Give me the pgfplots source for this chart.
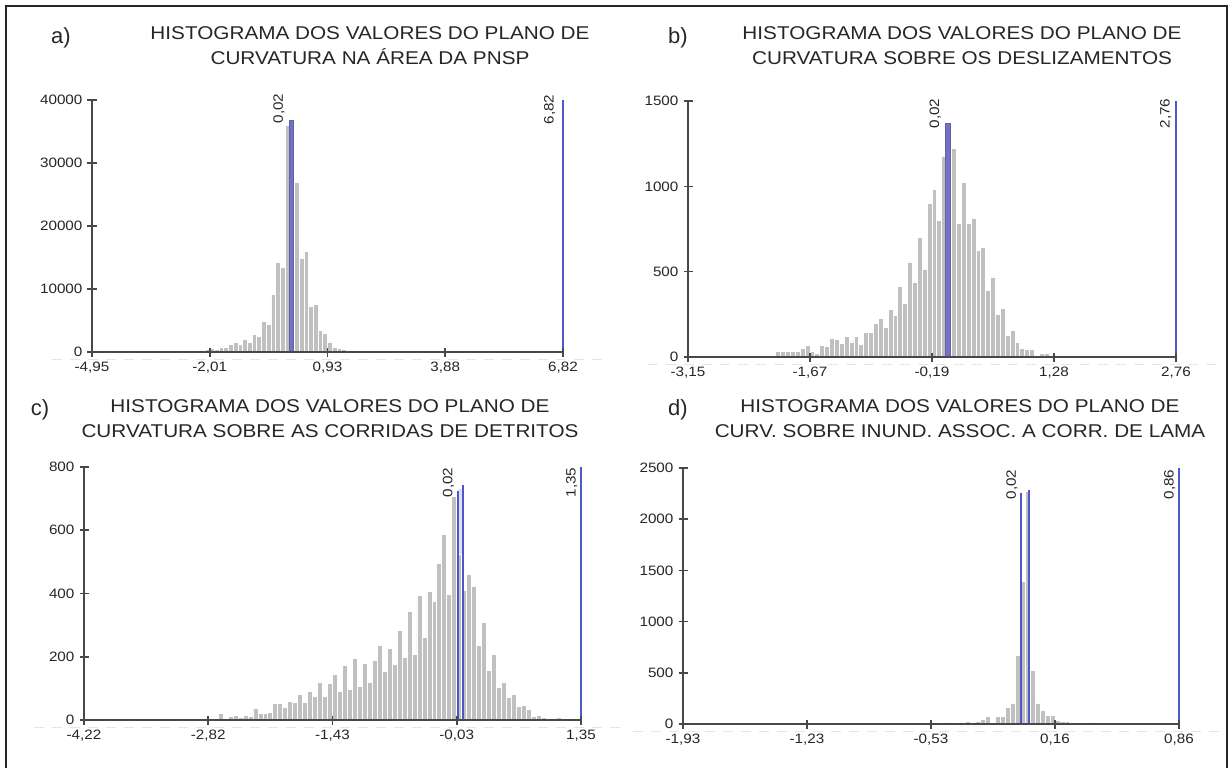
\documentclass[border=0pt]{standalone}
\usepackage{fontspec}
\setmainfont{Liberation Sans}
\newfontfamily\titlef{Liberation Sans}[FakeStretch=1.12]
\newfontfamily\tickf{Liberation Sans}[FakeStretch=1.12]
\usepackage{pgfplots}
\pgfplotsset{compat=1.18}
\usepackage{pgfplotstable}

\definecolor{bargray}{RGB}{192,192,192}
\definecolor{selblue}{RGB}{114,114,196}
\definecolor{lineblue}{RGB}{78,88,200}
\definecolor{axisgray}{RGB}{72,72,72}
\definecolor{txt}{RGB}{38,38,38}

% Histogram counts per class (100 classes between min and max)
\pgfplotstableread{
bin count
18 20
19 40
20 60
21 100
22 150
23 200
24 350
25 600
26 450
27 800
28 700
29 1200
30 1500
31 1200
32 2000
33 1500
34 2800
35 2500
36 4800
37 4400
38 9200
39 14200
40 13400
41 36000
42 30000
43 27000
44 14800
45 16000
46 7300
47 7500
48 3400
49 3000
50 1600
51 800
52 600
53 350
54 250
55 150
56 100
57 80
58 50
59 30
60 20
61 0
}\histA

\pgfplotstableread{
bin count
10 3
11 0
12 5
13 3
14 10
15 5
16 5
17 10
18 30
19 35
20 30
21 35
22 33
23 50
24 68
25 35
26 20
27 68
28 65
29 107
30 103
31 78
32 121
33 88
34 123
35 74
36 143
37 143
38 199
39 225
40 172
41 277
42 244
43 414
44 316
45 557
46 440
47 703
48 516
49 902
50 984
51 801
52 1178
53 1300
54 1221
55 781
56 1025
57 781
58 814
59 625
60 645
61 390
62 469
63 250
64 283
65 127
66 156
67 84
68 49
69 47
70 43
71 10
72 23
73 20
74 10
75 6
76 5
77 5
78 5
79 3
80 0
}\histB

\pgfplotstableread{
bin count
18 3
19 4
20 3
21 4
22 2
23 3
24 2
25 2
26 4
27 20
28 4
29 11
30 15
31 9
32 15
33 12
34 36
35 21
36 20
37 23
38 52
39 52
40 41
41 59
42 56
43 80
44 56
45 91
46 75
47 120
48 74
49 115
50 145
51 91
52 172
53 96
54 195
55 107
56 179
57 120
58 187
59 237
60 153
61 226
62 176
63 284
64 197
65 343
66 208
67 395
68 262
69 407
70 375
71 494
72 588
73 396
74 708
75 523
76 409
77 459
78 421
79 237
80 308
81 157
82 208
83 103
84 118
85 70
86 80
87 44
88 46
89 33
90 12
91 15
92 9
93 4
94 4
95 7
96 3
97 2
98 1
99 0
}\histC

\pgfplotstableread{
bin count
48 2
49 5
50 4
51 6
52 6
53 10
54 13
55 13
56 13
57 22
58 16
59 26
60 45
61 71
62 16
63 71
64 77
65 161
66 206
67 666
68 1390
69 2270
70 527
71 206
72 135
73 80
74 87
75 39
76 29
77 22
78 19
79 16
80 13
81 13
82 10
83 6
84 6
85 5
86 4
87 3
88 3
89 2
90 3
91 2
92 2
93 2
94 2
95 1
96 1
97 1
98 1
99 0
}\histD

\pgfplotsset{
  histo/.style={
    scale only axis,
    anchor=south west,
    axis on top,
    axis x line*=bottom,
    axis y line*=left,
    axis line style={axisgray, line width=1pt},
    tick style={axisgray, line width=0.8pt},
    major tick length=4.5pt,
    tick align=center,
    scaled y ticks=false,
    xmin=0, xmax=100, ymin=0,
    xtick={0,25,50,75,100},
    ticklabel style={font=\tickf\fontsize{6.8pt}{7.5pt}\selectfont, text=txt},
    xticklabel style={yshift=1pt},
    yticklabel style={xshift=1pt},
    clip=false,
  },
  bars/.style={ybar interval, fill=bargray, draw=white, line width=0.4pt},
  selbar/.style={ybar interval, fill=selblue, draw=selblue!85!black, line width=0.3pt},
  haze bar/.style={ybar interval, fill=selblue!22, draw=none},
  mark line/.style={draw=lineblue, line width=0.95pt},
}
\tikzset{
  vlabel/.style={rotate=90, anchor=south east, inner sep=0.6pt,
    font=\tickf\fontsize{6.8pt}{7.5pt}\selectfont, text=txt},
  baseline dash/.style={black!10, line width=0.5pt, dash pattern=on 5pt off 4pt},
}

\newcommand{\paneltitle}[3]{%
  \node[font=\titlef\fontsize{9.25pt}{12.5pt}\selectfont, text=txt, align=center] at (#1,#2) {#3};}
\newcommand{\panelletter}[3]{%
  \node[font=\fontsize{11pt}{12pt}\selectfont, text=txt] at (#1,#2) {#3};}

\begin{document}
\begin{tikzpicture}
\useasboundingbox (0,0) rectangle (615.5pt,-383.5pt);
% outer frame
\draw[black!85, line width=1pt] (3pt,-390pt) -- (3pt,-3pt) -- (613.5pt,-3pt) -- (613.5pt,-390pt);

% ---------- a) ----------
\panelletter{30.5pt}{-19pt}{a)}
\paneltitle{185pt}{-22.75pt}{HISTOGRAMA DOS VALORES DO PLANO DE\\CURVATURA NA ÁREA DA PNSP}
\begin{axis}[histo, at={(46pt,-176pt)}, width=235.5pt, height=126pt,
  ymax=40000, ytick={0,10000,20000,30000,40000},
  yticklabels={0,10000,20000,30000,40000},
  xticklabels={{-4,95},{-2,01},{0,93},{3,88},{6,82}}]
  \draw[baseline dash] ([xshift=-20pt,yshift=-3.5pt]rel axis cs:0,0) -- ([xshift=20pt,yshift=-3.5pt]rel axis cs:1,0);
  \addplot[bars] table[x=bin, y=count] {\histA};
  \addplot[selbar] coordinates {(41.85,36800) (42.75,36800)};
  \addplot[mark line] coordinates {(100,0) (100,40000)};
  \node[xshift=-1.5pt, yshift=4pt, vlabel] at (axis cs:41.85,40000) {0,02};
  \node[xshift=-3pt, yshift=3.5pt, vlabel] at (axis cs:100,40000) {6,82};
\end{axis}

% ---------- b) ----------
\panelletter{339pt}{-19pt}{b)}
\paneltitle{481pt}{-22.75pt}{HISTOGRAMA DOS VALORES DO PLANO DE\\CURVATURA SOBRE OS DESLIZAMENTOS}
\begin{axis}[histo, at={(344pt,-178.5pt)}, width=244pt, height=128pt,
  ymax=1500, ytick={0,500,1000,1500},
  yticklabels={0,500,1000,1500},
  xticklabels={{-3,15},{-1,67},{-0,19},{1,28},{2,76}}]
  \draw[baseline dash] ([xshift=-20pt,yshift=-3.5pt]rel axis cs:0,0) -- ([xshift=20pt,yshift=-3.5pt]rel axis cs:1,0);
  \addplot[bars] table[x=bin, y=count] {\histB};
  \addplot[selbar] coordinates {(52.75,1371) (53.7,1371)};
  \addplot[mark line] coordinates {(100,0) (100,1500)};
  \node[xshift=-1.5pt, yshift=2pt, vlabel] at (axis cs:52.75,1500) {0,02};
  \node[xshift=-1.5pt, yshift=2pt, vlabel] at (axis cs:100,1500) {2,76};
\end{axis}

% ---------- c) ----------
\panelletter{20pt}{-205pt}{c)}
\paneltitle{165pt}{-209.5pt}{HISTOGRAMA DOS VALORES DO PLANO DE\\CURVATURA SOBRE AS CORRIDAS DE DETRITOS}
\begin{axis}[histo, at={(42pt,-360pt)}, width=248.5pt, height=126.5pt,
  ymax=800, ytick={0,200,400,600,800},
  yticklabels={0,200,400,600,800},
  xticklabels={{-4,22},{-2,82},{-1,43},{-0,03},{1,35}}]
  \draw[baseline dash] ([xshift=-25pt,yshift=-3.5pt]rel axis cs:0,0) -- ([xshift=20pt,yshift=-3.5pt]rel axis cs:1,0);
  \addplot[haze bar] coordinates {(75.2,730) (76.3,730)};
  \addplot[bars] table[x=bin, y=count] {\histC};
  \addplot[mark line] coordinates {(75.2,0) (75.2,725)};
  \addplot[mark line] coordinates {(76.3,0) (76.3,742)};
  \addplot[mark line] coordinates {(100,0) (100,800)};
  \node[xshift=-1pt, yshift=0.5pt, vlabel] at (axis cs:75.2,800) {0,02};
  \node[xshift=-1pt, yshift=0.5pt, vlabel] at (axis cs:100,800) {1,35};
\end{axis}

% ---------- d) ----------
\panelletter{339pt}{-205pt}{d)}
\paneltitle{480pt}{-209.5pt}{HISTOGRAMA DOS VALORES DO PLANO DE\\CURV. SOBRE INUND. ASSOC. A CORR. DE LAMA}
\begin{axis}[histo, at={(341.5pt,-362pt)}, width=248pt, height=128pt,
  ymax=2500, ytick={0,500,1000,1500,2000,2500},
  yticklabels={0,500,1000,1500,2000,2500},
  xticklabels={{-1,93},{-1,23},{-0,53},{0,16},{0,86}}]
  \draw[baseline dash] ([xshift=-25pt,yshift=-3.5pt]rel axis cs:0,0) -- ([xshift=20pt,yshift=-3.5pt]rel axis cs:1,0);
  \addplot[bars] table[x=bin, y=count] {\histD};
  \addplot[mark line] coordinates {(68.2,0) (68.2,2259)};
  \addplot[mark line] coordinates {(69.8,0) (69.8,2285)};
  \addplot[mark line] coordinates {(100,0) (100,2500)};
  \node[xshift=-1pt, yshift=0pt, vlabel] at (axis cs:68.2,2500) {0,02};
  \node[xshift=-1pt, yshift=0pt, vlabel] at (axis cs:100,2500) {0,86};
\end{axis}
\end{tikzpicture}
\end{document}
